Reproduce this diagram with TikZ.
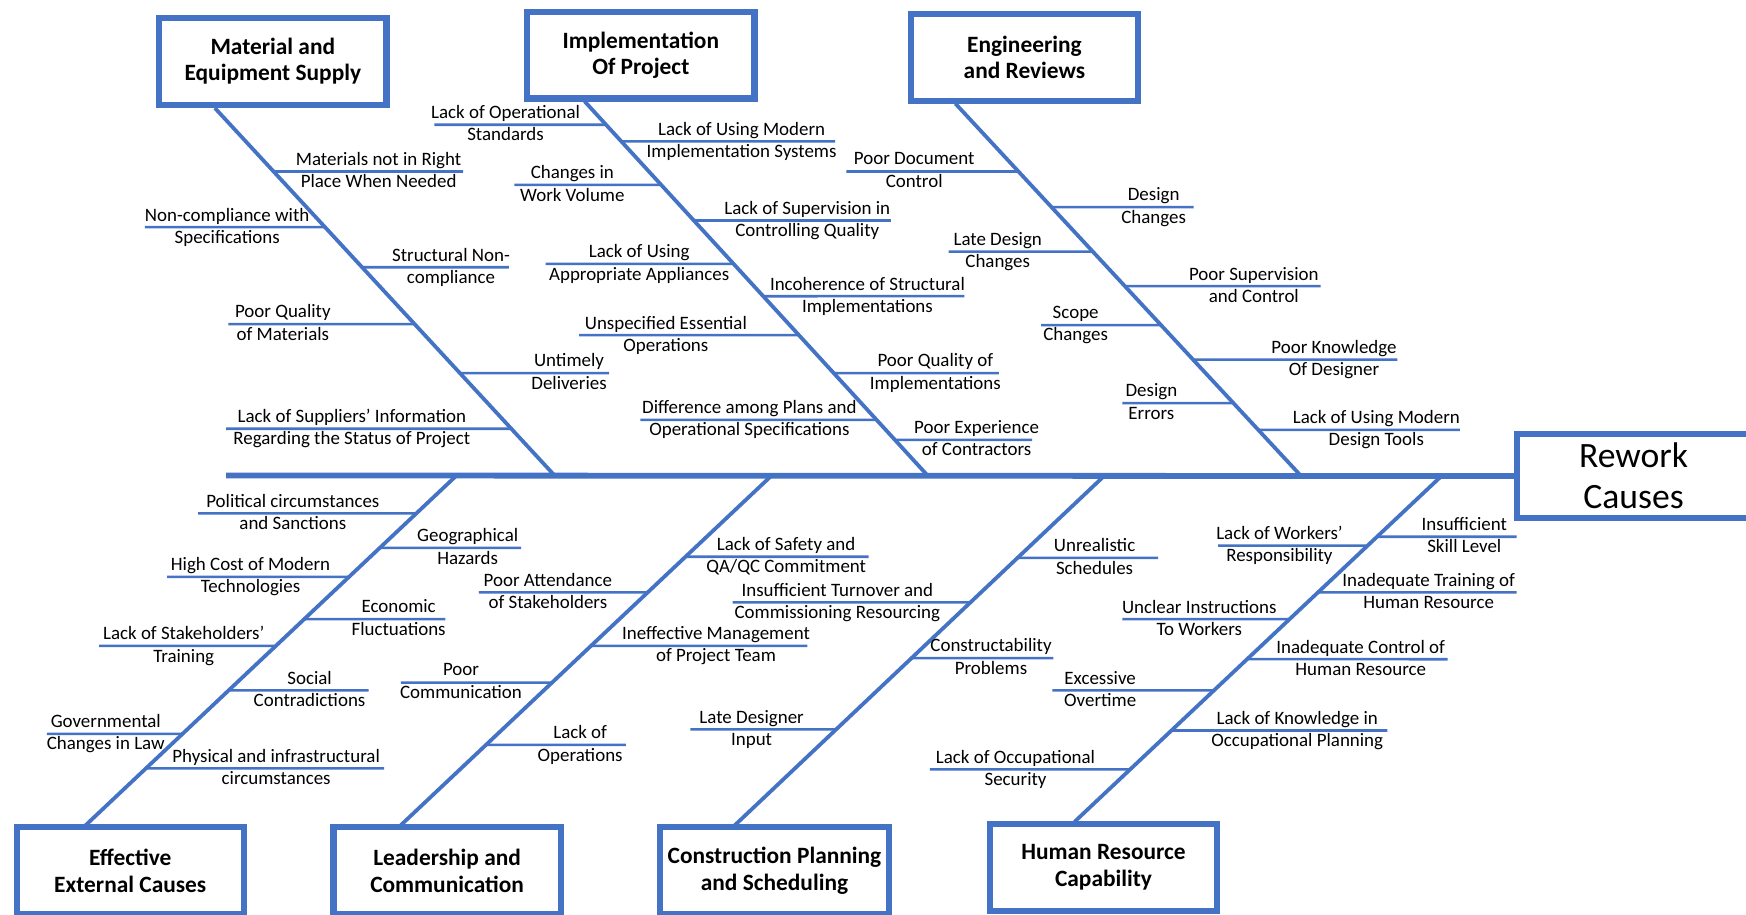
\documentclass[tikz,border=0pt]{standalone}
\usepackage{fontspec}
\setmainfont{Carlito}

\definecolor{fishblue}{RGB}{68,114,196}

\tikzset{
  headbox/.style={draw=fishblue, line width=2.8pt, align=center, minimum width=102pt, minimum height=39pt,
    font=\fontsize{10.5}{12}\selectfont\bfseries},
  spine/.style={fishblue, line width=2.6pt},
  bone/.style={fishblue, line width=1.7pt},
  rib/.style={fishblue, line width=1.15pt},
  cause/.style={align=center, inner sep=0pt, yshift=-0.8pt, font=\fontsize{8.5}{10}\selectfont,
    execute at begin node=\strut, execute at end node=\strut},
}

\begin{document}
\begin{tikzpicture}[x=0.5pt, y=-0.5pt]
  \useasboundingbox (0,0) rectangle (1568,821);
  \clip (0,0) rectangle (1568,821);

  % category boxes
  \node[headbox] (bMat) at (245,55) {Material and\\Equipment Supply};
  \node[headbox] (bImp) at (575.5,49.5) {Implementation\\Of Project};
  \node[headbox] (bEng) at (920,51.5) {Engineering\\and Reviews};
  \node[headbox] (bExt) at (117,782) {Effective\\External Causes};
  \node[headbox] (bLead) at (401.5,782) {Leadership and\\Communication};
  \node[headbox] (bCon) at (695.5,782) {Construction Planning\\and Scheduling};
  \node[headbox] (bHR) at (991,779) {Human Resource\\Capability};
  \node[headbox, minimum width=104.5pt, minimum height=38pt, font=\fontsize{16}{18.5}\selectfont] (bRew) at (1467,427.5) {Rework\\Causes};

  % spine
  \coordinate (spL) at (203,427);
  \draw[spine] (spL) -- (bRew.west);

  % bones
  \coordinate (matT) at (193,97);   \coordinate (matS) at (498,427);
  \coordinate (impT) at (525,91);   \coordinate (impS) at (833,427);
  \coordinate (engT) at (858,93);   \coordinate (engS) at (1168,427);
  \coordinate (extS) at (410,427);  \coordinate (extB) at (77,741);
  \coordinate (leadS) at (693,427); \coordinate (leadB) at (360,741);
  \coordinate (conS) at (992,427);  \coordinate (conB) at (660,741);
  \coordinate (hrS) at (1295,427);  \coordinate (hrB) at (965,738);
  \draw[bone] (matT) -- (matS);
  \draw[bone] (impT) -- (impS);
  \draw[bone] (engT) -- (engS);
  \draw[bone] (extS) -- (extB);
  \draw[bone] (leadS) -- (leadB);
  \draw[bone] (conS) -- (conB);
  \draw[bone] (hrS) -- (hrB);

  % causes: y / free end / text x / text
  \foreach \y/\xe/\xt/\txt [count=\i] in {
      154/416/340/{Materials not in Right\\Place When Needed},
      204/130/204/{Non-compliance with\\Specifications},
      240/457/405/{Structural Non-\\compliance},
      291/205/254/{Poor Quality\\of Materials},
      335/547/511/{Untimely\\Deliveries},
      385/203/316/{Lack of Suppliers’ Information\\Regarding the Status of Project}}
  {
    \draw[rib] (intersection of matT--matS and 0,\y--1,\y) -- (\xe,\y);
    \node[cause] (mat\i) at (\xt,\y) {\txt};
  }

  \foreach \y/\xe/\xt/\txt [count=\i] in {
      112/390/454/{Lack of Operational\\Standards},
      127/750/666/{Lack of Using Modern\\Implementation Systems},
      166/462/514/{Changes in\\Work Volume},
      198/800/725/{Lack of Supervision in\\Controlling Quality},
      237/490/574/{Lack of Using\\Appropriate Appliances},
      266/866/779/{Incoherence of Structural\\Implementations},
      301/520/598/{Unspecified Essential\\Operations},
      335/897/840/{Poor Quality of\\Implementations},
      377/575/673/{Difference among Plans and\\Operational Specifications},
      395/927/877/{Poor Experience\\of Contractors}}
  {
    \draw[rib] (intersection of impT--impS and 0,\y--1,\y) -- (\xe,\y);
    \node[cause] (imp\i) at (\xt,\y) {\txt};
  }

  \foreach \y/\xe/\xt/\txt [count=\i] in {
      154/760/821/{Poor Document\\Control},
      186/1072/1036/{Design\\Changes},
      226/852/896/{Late Design\\Changes},
      257/1186/1126/{Poor Supervision\\and Control},
      292/935/966/{Scope\\Changes},
      323/1255/1198/{Poor Knowledge\\Of Designer},
      362/1008/1034/{Design\\Errors},
      386/1311/1236/{Lack of Using Modern\\Design Tools}}
  {
    \draw[rib] (intersection of engT--engS and 0,\y--1,\y) -- (\xe,\y);
    \node[cause] (eng\i) at (\xt,\y) {\txt};
  }

  \foreach \y/\xe/\xt/\txt [count=\i] in {
      461/178/263/{Political circumstances\\and Sanctions},
      492/468/420/{Geographical\\Hazards},
      518/150/225/{High Cost of Modern\\Technologies},
      556/400/358/{Economic\\Fluctuations},
      580/89/165/{Lack of Stakeholders’\\Training},
      620/331/278/{Social\\Contradictions},
      659/42/95/{Governmental\\Changes in Law},
      690/345/248/{Physical and infrastructural\\circumstances}}
  {
    \draw[rib] (intersection of extS--extB and 0,\y--1,\y) -- (\xe,\y);
    \node[cause] (ext\i) at (\xt,\y) {\txt};
  }

  \foreach \y/\xe/\xt/\txt [count=\i] in {
      500/780/706/{Lack of Safety and\\QA/QC Commitment},
      532/430/492/{Poor Attendance\\of Stakeholders},
      580/725/643/{Ineffective Management\\of Project Team},
      613/360/414/{Poor\\Communication},
      669/562/521/{Lack of\\Operations}}
  {
    \draw[rib] (intersection of leadS--leadB and 0,\y--1,\y) -- (\xe,\y);
    \node[cause] (lead\i) at (\xt,\y) {\txt};
  }

  \foreach \y/\xe/\xt/\txt [count=\i] in {
      501/1040/983/{Unrealistic\\Schedules},
      541/658/752/{Insufficient Turnover and\\Commissioning Resourcing},
      591/946/890/{Constructability\\Problems},
      655/620/675/{Late Designer\\Input}}
  {
    \draw[rib] (intersection of conS--conB and 0,\y--1,\y) -- (\xe,\y);
    \node[cause] (con\i) at (\xt,\y) {\txt};
  }

  \foreach \y/\xe/\xt/\txt [count=\i] in {
      482/1362/1315/{Insufficient\\Skill Level},
      490/1094/1149/{Lack of Workers’\\Responsibility},
      532/1362/1283/{Inadequate Training of\\Human Resource},
      556/1008/1077/{Unclear Instructions\\To Workers},
      592/1300/1222/{Inadequate Control of\\Human Resource},
      620/945/988/{Excessive\\Overtime},
      656/1246/1165/{Lack of Knowledge in\\Occupational Planning},
      691/835/912/{Lack of Occupational\\Security}}
  {
    \draw[rib] (intersection of hrS--hrB and 0,\y--1,\y) -- (\xe,\y);
    \node[cause] (hr\i) at (\xt,\y) {\txt};
  }
\end{tikzpicture}
\end{document}
